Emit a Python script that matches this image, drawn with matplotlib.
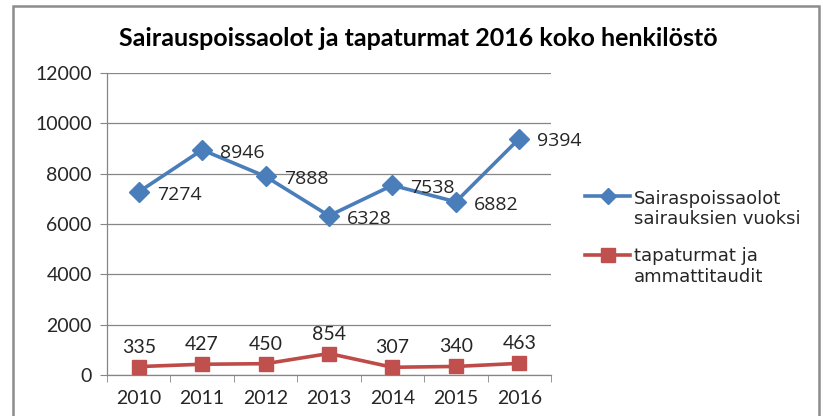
import matplotlib
matplotlib.use("Agg")
import matplotlib.pyplot as plt
from matplotlib.patches import Rectangle
from matplotlib.lines import Line2D
import numpy as np

years = ["2010", "2011", "2012", "2013", "2014", "2015", "2016"]
sick_leave = [7274, 8946, 7888, 6328, 7538, 6882, 9394]
accidents = [335, 427, 450, 854, 307, 340, 463]
yticks = [0, 2000, 4000, 6000, 8000, 10000, 12000]
title = "Sairauspoissaolot ja tapaturmat 2016 koko henkilöstö"
label_sick = "Sairaspoissaolot\nsairauksien vuoksi"
label_acc = "tapaturmat ja\nammattitaudit"

blue = "#4A7EBB"
red = "#BE4B48"
redm = "#C0504D"
grid = "#868686"
txt = "#262626"

W, H = 823, 416
fig = plt.figure(figsize=(W/100, H/100), dpi=100)
fig.patch.set_facecolor("white")
fig.patches.append(Rectangle((13/W, -0.05), (819-13)/W, 1.05 - 6/H,
                             transform=fig.transFigure, fill=False,
                             edgecolor="#8c8c8c", linewidth=1.8))

ax = fig.add_axes([107/W, 1-375/H, (551-107)/W, (375-73)/H])
x = np.arange(len(years))
ax.plot(x, sick_leave, color=blue, lw=2.6, marker="D", ms=10,
        markerfacecolor=blue, markeredgecolor=blue, zorder=3)
ax.plot(x, accidents, color=red, lw=2.6, marker="s", ms=10,
        markerfacecolor=redm, markeredgecolor=redm, zorder=3)

for xi, v in zip(x, sick_leave):
    ax.annotate(str(v), (xi, v), xytext=(13, -2), textcoords="offset points",
                ha="left", va="center", fontsize=14, color=txt, family="Open Sans")
for xi, v in zip(x, accidents):
    ax.annotate(str(v), (xi, v), xytext=(0, 14), textcoords="offset points",
                ha="center", va="center", fontsize=14, color=txt, family="Lato")

ax.set_xlim(-0.5, 6.5)
ax.set_ylim(0, 12000)
ax.set_yticks(yticks)
ax.set_yticklabels([str(t) for t in yticks], fontsize=14, color=txt, family="Lato")
ax.set_xticks(x)
ax.set_xticklabels(years, fontsize=14, color=txt, family="Lato")
ax.set_xticks(np.arange(-0.5, 7, 1), minor=True)
ax.tick_params(axis="x", which="major", length=0, pad=11)
ax.tick_params(axis="x", which="minor", length=5, color=grid, direction="out")
ax.tick_params(axis="y", length=5, color=grid, direction="out", pad=6)
ax.grid(axis="y", color=grid, lw=0.9)
ax.set_axisbelow(True)
for s in ["top", "right"]:
    ax.spines[s].set_visible(False)
for s in ["left", "bottom"]:
    ax.spines[s].set_color(grid)
    ax.spines[s].set_linewidth(0.9)

fig.text(418/W, 1-38/H, title, ha="center", va="center", fontsize=18,
         fontweight="bold", family="Lato", color="black")

# legend (Excel style: handle aligned with first line of label)
entries = [(label_sick, blue, blue, "D", 196, 209),
           (label_acc, red, redm, "s", 255, 266.5)]
for lab, lc, mc, mk, yh, yt in entries:
    fig.add_artist(Line2D([585/W, 630/W], [1-yh/H, 1-yh/H], transform=fig.transFigure,
                          color=lc, lw=2.6))
    fig.add_artist(Line2D([607.5/W], [1-yh/H], transform=fig.transFigure,
                          marker=mk, ms=10 if mk == "s" else 8.5, color=mc, lw=0))
    fig.text(634/W, 1-yt/H, lab, ha="left", va="center", fontsize=13,
             family="DejaVu Sans", color=txt, linespacing=1.15)

fig.savefig("out.png", dpi=100)
